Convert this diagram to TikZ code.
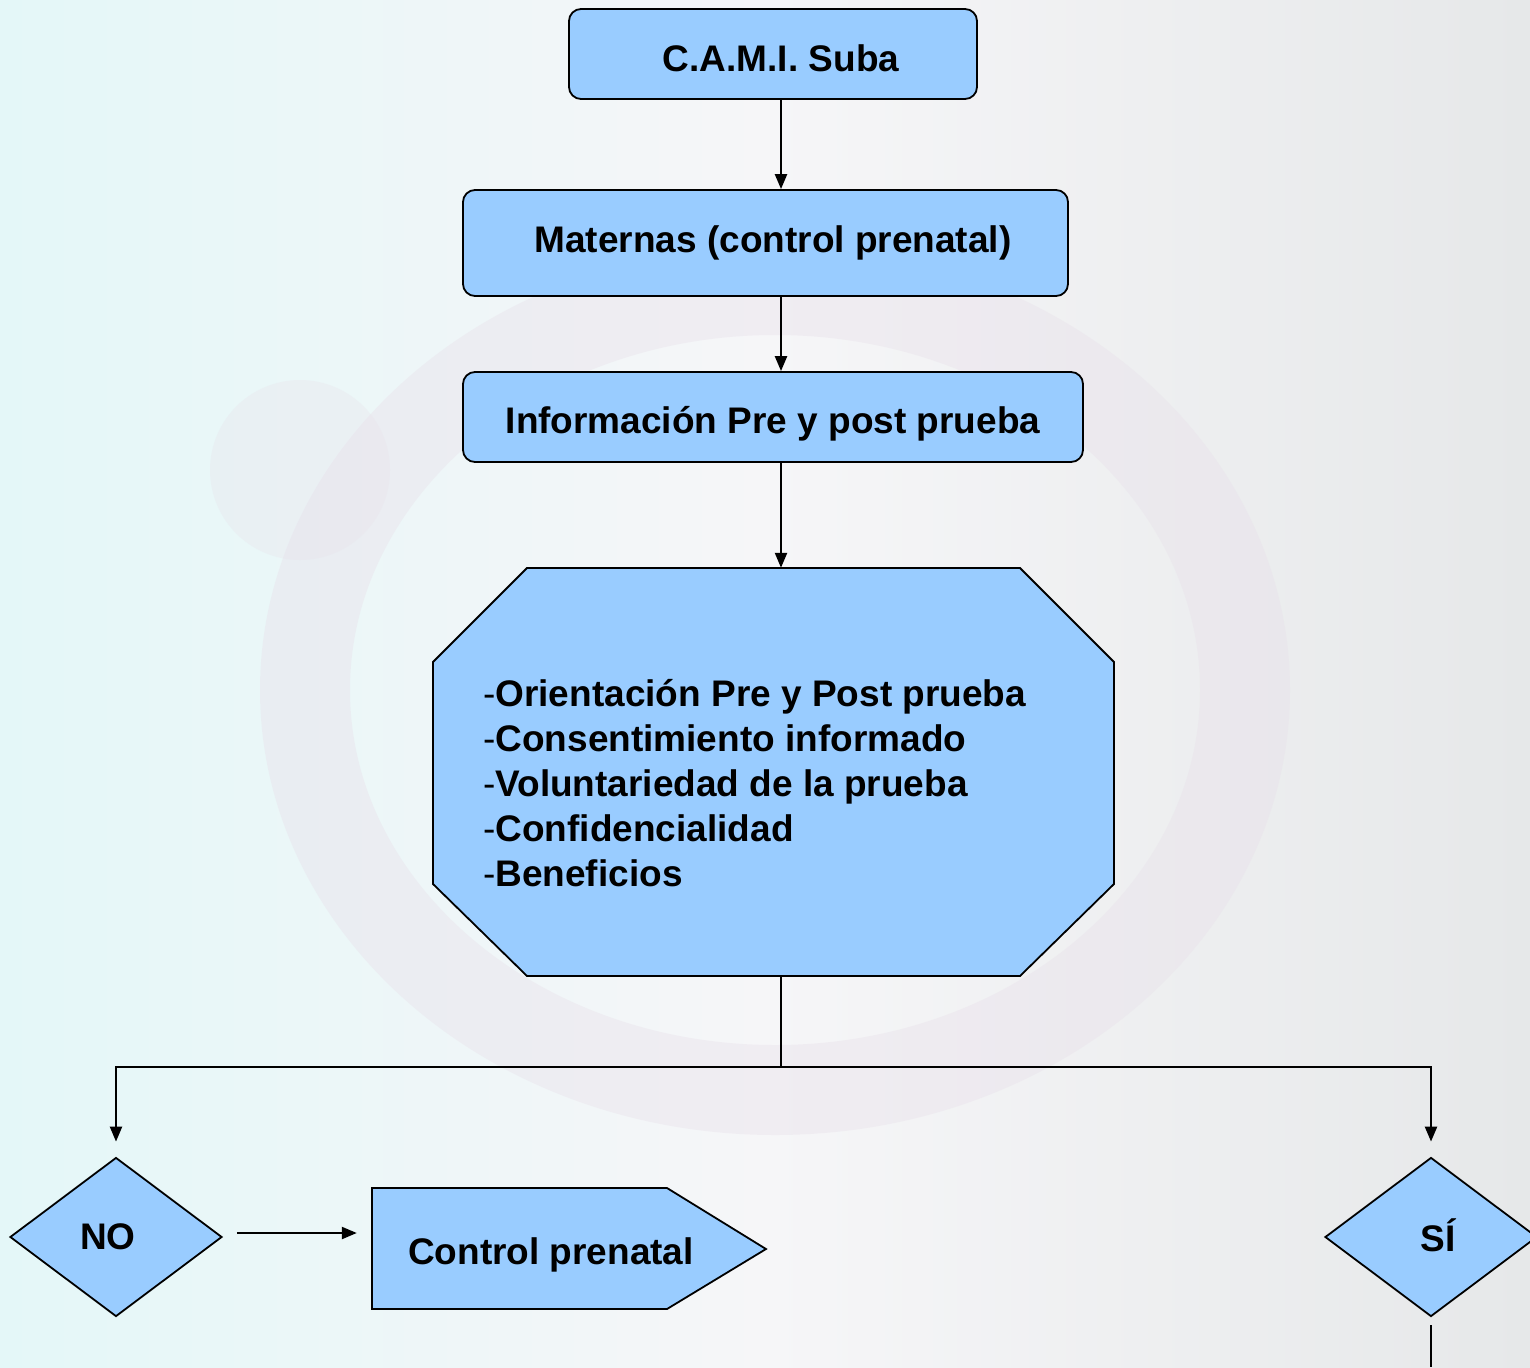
\documentclass[tikz,border=0pt]{standalone}
\usepackage{fontspec}
\setmainfont{Liberation Sans}
\usetikzlibrary{shapes.geometric,arrows.meta}
\definecolor{boxblue}{RGB}{153,204,255}
\definecolor{bgleft}{RGB}{228,247,248}
\definecolor{bgmid}{RGB}{246,246,248}
\definecolor{bgright}{RGB}{230,232,233}
\definecolor{ringcol}{RGB}{232,224,234}
\begin{document}
\begin{tikzpicture}[x=1pt,y=-1pt,
  lbl/.style={font=\fontsize{37}{45}\selectfont\bfseries, inner sep=0pt},
  shapebox/.style={draw=black, line width=1.8pt, fill=boxblue, inner sep=0pt},
  rbox/.style={shapebox, rectangle, rounded corners=12pt},
  dbox/.style={shapebox, diamond, minimum width=212pt, minimum height=159pt},
  ghost/.style={draw=none, inner sep=0pt, rectangle},
  arr/.style={line width=2.3pt, -{Triangle[length=15pt,width=12pt]}},
  ln/.style={line width=2.3pt}]

% background
\useasboundingbox (0,0) rectangle (1530,1367);
\shade[left color=bgleft, right color=bgright, middle color=bgmid] (0,0) rectangle (1530,1367);
\draw[ringcol, line width=90pt, opacity=0.4] (775,690) ellipse (470pt and 400pt);
\fill[ringcol, opacity=0.3] (300,470) circle (90pt);

% spine coordinates
\coordinate (spine) at (781,0);
\coordinate (split) at (781,1067);
\coordinate (bottom) at (0,1367);

% boxes
\node[rbox, minimum width=408pt, minimum height=90pt] (b1) at (773,54) {};
\node[lbl] at (781,58) {C.A.M.I. Suba};

\node[rbox, minimum width=605pt, minimum height=106pt] (b2) at (765.5,243) {};
\node[lbl] at (773,243) {Maternas (control prenatal)};

\node[rbox, minimum width=620pt, minimum height=90pt] (b3) at (773,417) {};
\node[lbl] at (773,424) {Información Pre y post prueba};

% octagon
\draw[shapebox] (527,568) -- (1020,568) -- (1114,662) -- (1114,884) -- (1020,976)
  -- (527,976) -- (433,884) -- (433,662) -- cycle;
\node[ghost, minimum width=681pt, minimum height=408pt] (oct) at (773.5,772) {};
\node[lbl, anchor=west, align=left] (octtxt) at (483,783) {%
{\mdseries -}Orientación Pre y Post prueba\\
{\mdseries -}Consentimiento informado\\
{\mdseries -}Voluntariedad de la prueba\\
{\mdseries -}Confidencialidad\\
{\mdseries -}Beneficios};

% diamonds
\node[dbox] (no) at (116,1237) {};
\node[lbl] at (108,1237) {NO};
\node[dbox] (si) at (1431,1237) {};
\node[lbl] at (1438,1235) {SÍ};

% control prenatal pentagon
\draw[shapebox] (372,1188) -- (667,1188) -- (766,1249) -- (667,1309) -- (372,1309) -- cycle;
\node[ghost, minimum width=394pt, minimum height=121pt] (cp) at (569,1248.5) {};
\node[lbl] at (551,1255) {Control prenatal};

% connectors
\draw[arr] (b1.south -| spine) -- (b2.north -| spine);
\draw[arr] (b2.south -| spine) -- (b3.north -| spine);
\draw[arr] (b3.south -| spine) -- (oct.north -| spine);
\draw[ln] (oct.south -| spine) -- (split);
\draw[arr, shorten >=15pt] (split) -| (no.north);
\draw[arr, shorten >=15pt] (split) -| (si.north);
\coordinate (noy) at (0,1233);
\draw[arr, shorten <=14pt, shorten >=15pt] (no.east |- noy) -- (cp.west |- noy);
\draw[ln, shorten <=8pt] (si.south) -- (si.south |- bottom);
\end{tikzpicture}
\end{document}
